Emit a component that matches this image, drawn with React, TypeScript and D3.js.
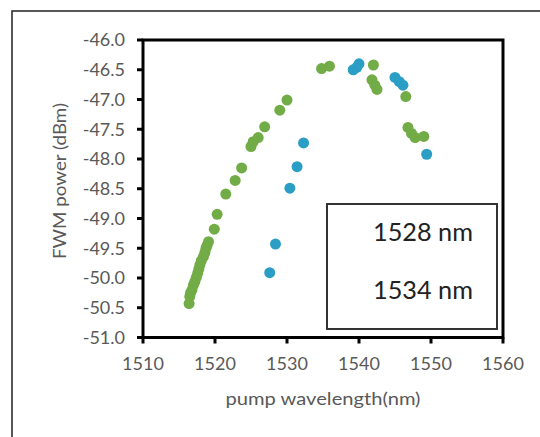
import React from 'react';
import * as d3 from 'd3';

// pump wavelength (nm) / FWM power (dBm)
const greenX = [1516.4, 1516.5, 1516.6, 1516.8, 1517.0, 1517.2, 1517.4, 1517.6, 1517.75, 1517.9, 1518.1, 1518.4, 1518.6, 1518.75, 1518.9, 1519.1, 1519.9, 1520.3, 1521.5, 1522.8, 1523.7, 1525.0, 1525.3, 1526.0, 1526.9, 1529.0, 1530.0, 1534.8, 1535.9, 1542.0, 1541.8, 1542.2, 1542.5, 1546.5, 1546.8, 1547.3, 1547.8, 1549.0];
const greenY = [-50.43, -50.31, -50.25, -50.2, -50.12, -50.06, -49.99, -49.92, -49.85, -49.78, -49.71, -49.64, -49.57, -49.5, -49.45, -49.39, -49.18, -48.93, -48.59, -48.36, -48.15, -47.79, -47.71, -47.64, -47.46, -47.18, -47.01, -46.48, -46.44, -46.42, -46.67, -46.76, -46.83, -46.95, -47.47, -47.57, -47.64, -47.62];

const blueX = [1527.6, 1528.4, 1530.4, 1531.4, 1532.3, 1539.2, 1539.7, 1540.0, 1545.0, 1545.6, 1546.1, 1549.4];
const blueY = [-49.91, -49.43, -48.49, -48.13, -47.73, -46.5, -46.46, -46.4, -46.63, -46.7, -46.76, -47.92];

const xTicks = [1510, 1520, 1530, 1540, 1550, 1560];
const yTicks = [-46, -46.5, -47, -47.5, -48, -48.5, -49, -49.5, -50, -50.5, -51];
const legendLabels = ['1528 nm', '1534 nm'];

const W = 540;
const H = 437;
const plot = { left: 143, right: 503, top: 40, bottom: 337.5 };
const font = 'Lato, "Open Sans", sans-serif';
const grey = '#595959';

const App: React.FC = () => {
  const x = d3.scaleLinear().domain([1510, 1560]).range([plot.left, plot.right]);
  const y = d3.scaleLinear().domain([-51, -46]).range([plot.bottom, plot.top]);

  const green = greenX.map((v, i) => ({ x: v, y: greenY[i] }));
  const blue = blueX.map((v, i) => ({ x: v, y: blueY[i] }));

  return (
    <svg width={W} height={H} style={{ position: 'absolute', left: 0, top: 0, background: '#fff' }}>
      <rect x={12} y={11} width={W} height={H} fill="#fff" stroke="#222" strokeWidth={1.5} />

      {/* y ticks + labels */}
      {yTicks.map(t => (
        <g key={t}>
          <line x1={plot.left - 6} x2={plot.left} y1={y(t)} y2={y(t)} stroke="#000" strokeWidth={3} />
          <text x={125} y={y(t)} dy="0.35em" textAnchor="end" fontSize={18} fill={grey} fontFamily={font}>
            {t.toFixed(1)}
          </text>
        </g>
      ))}

      {/* x ticks + labels */}
      {xTicks.map(t => (
        <g key={t}>
          <line x1={x(t)} x2={x(t)} y1={plot.bottom} y2={plot.bottom + 6} stroke="#000" strokeWidth={3} />
          <text x={x(t)} y={370} textAnchor="middle" fontSize={18} fill={grey} fontFamily={font}>
            {t}
          </text>
        </g>
      ))}

      {/* plot frame */}
      <rect x={plot.left} y={plot.top} width={plot.right - plot.left} height={plot.bottom - plot.top}
        fill="none" stroke="#000" strokeWidth={3} />

      {blue.map((d, i) => (
        <circle key={'b' + i} cx={x(d.x)} cy={y(d.y)} r={5.5} fill="#2A9EC4" />
      ))}
      {green.map((d, i) => (
        <circle key={'g' + i} cx={x(d.x)} cy={y(d.y)} r={5.5} fill="#72AC46" />
      ))}

      {/* legend */}
      <rect x={327} y={204} width={170} height={125} fill="#fff" stroke="#333" strokeWidth={2} />
      {legendLabels.map((l, i) => (
        <text key={l} x={373} y={241 + i * 58} fontSize={25} fill="#222" fontFamily={font}
          textLength={100} lengthAdjust="spacingAndGlyphs">{l}</text>
      ))}

      {/* axis titles */}
      <text transform={`translate(66,${181}) rotate(-90)`} textAnchor="middle" fontSize={17} fill={grey} fontFamily={font}
        textLength={156} lengthAdjust="spacingAndGlyphs">
        FWM power (dBm)
      </text>
      <text x={(plot.left + plot.right) / 2} y={405} textAnchor="middle" fontSize={18} fill={grey} fontFamily={font}
        textLength={195} lengthAdjust="spacingAndGlyphs">
        pump wavelength(nm)
      </text>
    </svg>
  );
};

export default App;
